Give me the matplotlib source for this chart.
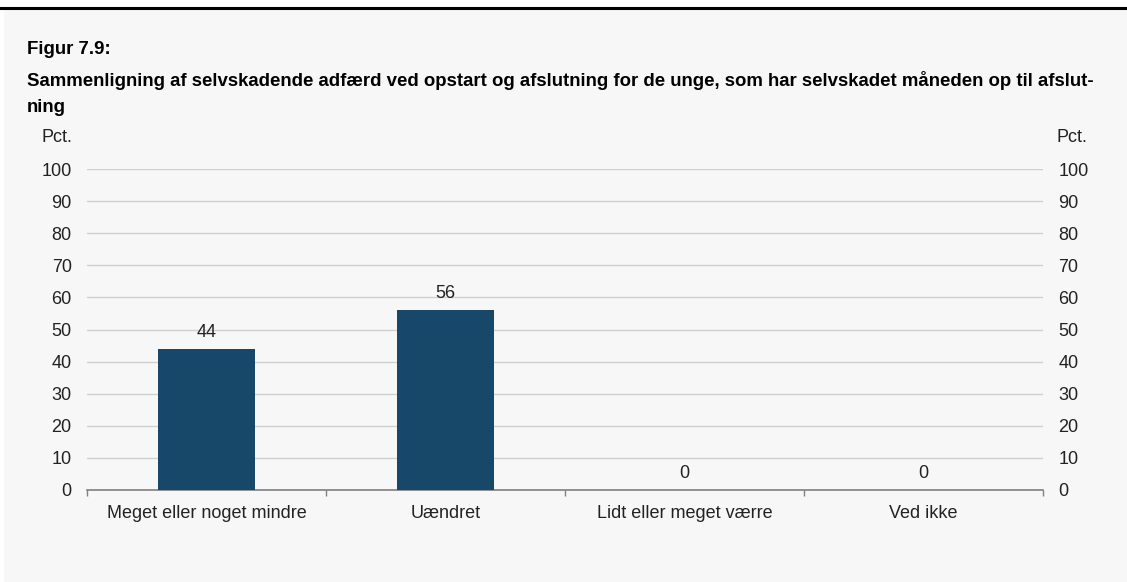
import matplotlib.pyplot as plt
from matplotlib.patches import Rectangle
from matplotlib.lines import Line2D
import numpy as np

plt.rcParams['font.family'] = ['Liberation Sans', 'DejaVu Sans']

# data
categories = ['Meget eller noget mindre', 'Uændret', 'Lidt eller meget værre', 'Ved ikke']
values = [44, 56, 0, 0]
yticks = list(range(0, 101, 10))

W, H = 1127, 582
fig = plt.figure(figsize=(W / 100, H / 100), dpi=100, facecolor='white')

# light grey panel and black top rule
fig.patches.append(Rectangle((4 / W, 0), 1 - 4 / W, 1 - 9 / H, transform=fig.transFigure,
                             facecolor='#f7f7f7', edgecolor='none', zorder=-10))
fig.lines.append(Line2D([0, 1], [1 - 7.5 / H, 1 - 7.5 / H], transform=fig.transFigure,
                        color='black', lw=2.2, zorder=-5))

tsize = 13.4
fig.text(27 / W, 1 - 49 / H, 'Figur 7.9:', fontsize=tsize, fontweight='bold', va='center')
fig.text(27 / W, 1 - 80 / H,
         'Sammenligning af selvskadende adfærd ved opstart og afslutning for de unge, som har selvskadet måneden op til afslut-',
         fontsize=tsize, fontweight='bold', va='center')
fig.text(27 / W, 1 - 108 / H, 'ning', fontsize=tsize, fontweight='bold', va='center')

# axes: x 87..1043, y 169..490
ax = fig.add_axes([87 / W, 1 - 490 / H, (1043 - 87) / W, (490 - 169) / H])
ax.set_facecolor('none')

x = np.arange(len(categories))
ax.bar(x, values, width=0.41, color='#174869', zorder=3)
for xi, v in zip(x, values):
    ax.annotate(str(v), (xi, v), xytext=(0, 12), textcoords='offset points',
                ha='center', va='center', fontsize=13, color='#222222')

ax.set_xlim(-0.5, len(categories) - 0.5)
ax.set_ylim(0, 100)
ax.set_yticks(yticks)
ax.yaxis.grid(True, color='#cfcfcf', lw=1)
ax.set_axisbelow(True)
ax.tick_params(axis='y', length=0, labelsize=13, labelcolor='#222222', pad=11,
               labelright=True, right=False)
ax.set_xticks(x)
ax.set_xticklabels(categories, fontsize=13, color='#222222')
ax.tick_params(axis='x', length=0, pad=11)
ax.set_xticks(np.arange(-0.5, len(categories)), minor=True)
ax.tick_params(axis='x', which='minor', length=4, color='#808080', width=1)

for s in ['top', 'left', 'right']:
    ax.spines[s].set_visible(False)
ax.spines['bottom'].set_color('#808080')
ax.spines['bottom'].set_linewidth(1.2)

fig.text(57 / W, 1 - 138 / H, 'Pct.', fontsize=13, ha='center', va='center', color='#222222')
fig.text(1072 / W, 1 - 138 / H, 'Pct.', fontsize=13, ha='center', va='center', color='#222222')

fig.savefig('out.png', dpi=100, facecolor=fig.get_facecolor())
